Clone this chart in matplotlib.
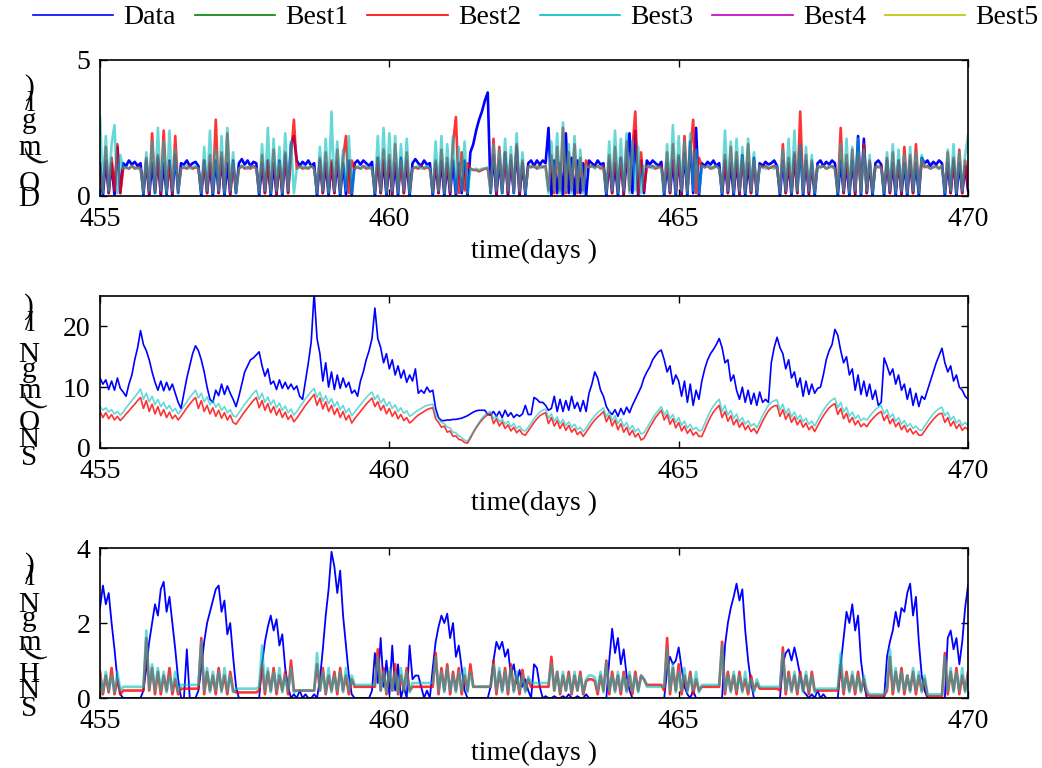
import numpy as np
import matplotlib
matplotlib.use('Agg')
import matplotlib.pyplot as plt
from matplotlib.lines import Line2D

plt.rcParams['font.family'] = ['Liberation Serif', 'DejaVu Serif']

# sampling of the series: 455.00 .. 470.00, one value every 0.05 day
t_start = 455.0
t_step = 0.05

# ---- DO (mg/l) ----
do_data = [
    1.2, 0.0, 1.3, 0.1, 1.2, 0.0, 1.8, 0.1, 1.2, 1.1, 1.3, 1.15, 1.25, 1.1, 1.2, 0.05, 1.3, 0.0, 1.2, 0.1,
    1.4, 0.0, 1.2, 0.05, 1.3, 0.0, 1.5, 0.1, 1.2, 1.15, 1.3, 1.1, 1.2, 1.25, 1.1, 0.0, 1.3, 0.1, 1.2, 0.0,
    1.3, 0.1, 1.4, 0.0, 1.2, 0.05, 1.3, 0.1, 1.2, 1.35, 1.15, 1.3, 1.1, 1.25, 1.2, 0.0, 1.2, 0.1, 1.3, 0.0,
    1.2, 0.05, 1.3, 0.0, 1.5, 0.1, 1.9, 2.2, 1.3, 1.1, 1.25, 1.15, 1.3, 1.1, 1.2, 0.0, 1.3, 0.1, 1.2, 0.0,
    1.2, 0.1, 1.3, 0.0, 1.2, 0.05, 1.3, 0.0, 1.2, 1.3, 1.15, 1.3, 1.2, 1.1, 1.25, 0.0, 1.4, 0.1, 1.3, 0.0,
    1.3, 0.05, 1.2, 0.0, 1.4, 0.1, 1.3, 0.0, 1.2, 1.35, 1.2, 1.1, 1.3, 1.15, 1.2, 0.0, 1.2, 0.1, 1.3, 0.0,
    1.2, 0.05, 1.3, 0.0, 1.2, 0.1, 1.3, 0.0, 1.6, 1.9, 2.4, 2.8, 3.1, 3.5, 3.8, 0.1, 1.5, 0.0, 1.3, 0.1,
    1.6, 0.0, 1.3, 0.1, 1.8, 0.0, 1.2, 0.05, 1.2, 1.3, 1.1, 1.3, 1.15, 1.3, 1.2, 2.5, 0.0, 1.3, 0.1, 1.2,
    0.0, 2.3, 0.1, 1.4, 0.0, 1.3, 0.1, 1.2, 0.0, 1.3, 1.2, 1.1, 1.3, 1.15, 1.2, 0.0, 1.3, 0.1, 1.2, 0.0,
    1.4, 0.05, 1.3, 2.3, 0.1, 2.4, 0.0, 1.3, 0.1, 1.3, 1.15, 1.3, 1.2, 1.1, 1.25, 0.0, 1.2, 0.1, 1.3, 0.0,
    1.4, 0.05, 1.6, 0.0, 2.0, 0.1, 2.5, 0.0, 1.2, 1.1, 1.25, 1.15, 1.3, 1.1, 1.2, 0.0, 1.3, 0.1, 1.2, 0.0,
    1.3, 0.05, 1.5, 0.0, 1.2, 0.1, 1.4, 0.0, 1.2, 1.1, 1.25, 1.15, 1.2, 1.3, 1.1, 0.0, 1.3, 0.1, 1.2, 0.0,
    1.5, 0.1, 1.9, 0.0, 1.3, 0.05, 1.2, 0.0, 1.2, 1.3, 1.1, 1.25, 1.15, 1.3, 1.2, 0.0, 1.3, 0.1, 1.2, 0.0,
    1.3, 0.05, 2.2, 0.0, 2.1, 0.1, 1.2, 0.0, 1.2, 1.3, 1.15, 0.0, 1.3, 0.1, 1.2, 0.0, 1.3, 0.05, 1.2, 0.0,
    1.3, 0.1, 1.2, 0.0, 1.4, 1.2, 1.3, 1.1, 1.25, 1.15, 1.3, 1.2, 0.0, 1.2, 0.1, 1.3, 0.0, 1.2, 0.1, 1.1,
    0.2]
do_best2 = [
    1.0, 0.2, 1.8, 0.1, 1.4, 0.2, 1.9, 0.1, 1.0, 1.05, 1.0, 1.1, 1.0, 1.05, 1.0, 0.2, 1.4, 0.1, 2.3, 0.2,
    1.5, 0.1, 2.4, 0.2, 1.2, 0.1, 2.2, 0.2, 1.0, 1.05, 1.0, 1.1, 1.0, 1.05, 1.0, 0.2, 1.3, 0.1, 1.5, 0.2,
    2.8, 0.1, 1.6, 0.2, 2.3, 0.1, 1.2, 0.2, 1.0, 1.1, 1.0, 1.05, 1.0, 1.1, 1.0, 0.2, 1.5, 0.1, 1.3, 0.2,
    1.7, 0.1, 1.2, 0.2, 1.6, 0.1, 1.4, 2.8, 1.0, 1.1, 1.0, 1.05, 1.0, 1.1, 1.0, 0.2, 1.4, 0.1, 1.6, 0.2,
    1.3, 0.1, 1.7, 0.2, 1.4, 2.2, 0.1, 1.3, 1.0, 1.05, 1.0, 1.1, 1.0, 1.05, 1.0, 0.2, 1.4, 0.1, 1.7, 0.2,
    1.5, 0.1, 1.9, 0.2, 1.3, 0.1, 1.6, 0.2, 1.0, 1.05, 1.0, 1.1, 1.0, 1.05, 1.0, 0.2, 1.3, 0.1, 1.7, 0.2,
    1.4, 0.1, 1.9, 2.9, 0.1, 1.6, 0.2, 1.2, 1.0, 0.95, 0.95, 0.9, 0.95, 1.0, 1.0, 0.2, 2.1, 0.1, 1.8, 0.2,
    1.6, 0.1, 1.5, 0.2, 1.9, 0.1, 1.3, 0.2, 1.1, 1.05, 1.1, 1.0, 1.1, 1.05, 1.1, 0.2, 1.5, 0.1, 1.8, 0.2,
    2.5, 0.1, 1.6, 0.2, 1.9, 0.1, 1.4, 0.2, 1.3, 1.05, 1.1, 1.05, 1.1, 1.0, 1.1, 0.2, 1.5, 0.1, 1.8, 0.2,
    1.4, 0.1, 2.0, 0.2, 1.7, 3.1, 0.1, 1.6, 0.2, 1.1, 1.05, 1.1, 1.0, 1.05, 1.1, 0.2, 1.6, 0.1, 1.9, 0.2,
    1.5, 0.1, 2.2, 0.2, 1.6, 2.8, 0.1, 1.4, 1.1, 1.05, 1.1, 1.0, 1.05, 1.1, 1.0, 0.2, 1.5, 0.1, 1.8, 0.2,
    1.6, 0.1, 1.4, 0.2, 1.9, 0.1, 1.3, 0.2, 1.1, 1.05, 1.1, 1.0, 1.05, 1.1, 1.0, 0.2, 1.9, 0.1, 1.4, 0.2,
    1.6, 0.1, 3.1, 0.2, 1.5, 0.1, 1.3, 0.2, 1.1, 1.05, 1.1, 1.0, 1.05, 1.1, 1.0, 0.2, 2.5, 0.1, 1.5, 0.2,
    1.7, 0.1, 1.6, 0.2, 1.9, 0.1, 1.3, 0.2, 1.1, 1.05, 1.1, 0.2, 1.4, 0.1, 1.6, 0.2, 1.3, 0.1, 1.8, 0.2,
    1.5, 0.1, 1.9, 0.2, 1.3, 1.05, 1.1, 1.0, 1.05, 1.1, 1.0, 1.1, 0.2, 1.6, 0.1, 1.4, 0.2, 1.7, 0.1, 1.3,
    0.3]
do_best3 = [
    2.9, 0.1, 2.2, 0.2, 1.9, 2.6, 0.1, 1.5, 1.0, 1.05, 1.0, 1.1, 1.05, 1.0, 1.0, 0.1, 1.6, 0.2, 2.0, 0.1,
    2.5, 0.2, 2.0, 0.1, 2.4, 0.2, 1.7, 0.1, 1.0, 1.05, 1.1, 1.0, 1.05, 1.1, 1.0, 0.1, 1.8, 0.2, 2.4, 0.1,
    1.7, 0.2, 2.2, 0.1, 2.5, 0.2, 1.6, 0.1, 1.0, 1.1, 1.05, 1.0, 1.1, 1.05, 1.0, 0.1, 1.9, 0.2, 2.5, 0.1,
    2.1, 0.2, 1.8, 0.1, 2.3, 0.2, 2.0, 0.1, 1.0, 1.05, 1.1, 1.0, 1.05, 1.1, 1.0, 0.1, 1.8, 0.2, 2.1, 0.1,
    3.1, 0.2, 2.0, 0.1, 1.7, 0.2, 2.2, 0.1, 1.0, 1.1, 1.0, 1.05, 1.1, 1.0, 1.05, 0.1, 2.2, 0.2, 2.5, 0.1,
    2.3, 0.2, 2.2, 0.1, 1.9, 0.2, 2.1, 0.1, 1.0, 1.05, 1.1, 1.0, 1.05, 1.1, 1.0, 0.1, 2.0, 0.2, 2.2, 0.1,
    1.9, 0.2, 2.2, 0.1, 1.8, 0.2, 2.0, 0.1, 1.0, 0.95, 1.0, 0.95, 1.0, 1.0, 1.05, 0.1, 1.9, 0.2, 1.7, 0.1,
    2.1, 0.2, 1.8, 0.1, 2.3, 0.2, 1.6, 0.1, 1.05, 1.1, 1.05, 1.1, 1.0, 1.1, 1.05, 0.1, 2.0, 0.2, 2.3, 0.1,
    2.7, 0.2, 1.9, 0.1, 2.2, 0.2, 1.7, 0.1, 1.1, 1.05, 1.1, 1.0, 1.1, 1.05, 1.0, 0.1, 2.0, 0.2, 2.4, 0.1,
    2.1, 0.2, 2.3, 0.1, 2.0, 0.2, 1.8, 0.1, 1.1, 1.05, 1.1, 1.0, 1.1, 1.05, 1.0, 0.1, 1.9, 0.2, 2.6, 0.1,
    2.2, 0.2, 2.0, 0.1, 2.3, 0.2, 1.7, 0.1, 1.1, 1.05, 1.1, 1.05, 1.0, 1.1, 1.0, 0.1, 2.4, 0.2, 2.0, 0.1,
    2.1, 0.2, 1.8, 0.1, 2.1, 0.2, 1.6, 0.1, 1.1, 1.05, 1.0, 1.1, 1.05, 1.0, 1.1, 0.1, 1.7, 0.2, 2.1, 0.1,
    2.4, 0.2, 1.9, 0.1, 1.8, 0.2, 1.5, 0.1, 1.1, 1.05, 1.1, 1.0, 1.1, 1.05, 1.0, 0.1, 1.9, 0.2, 2.1, 0.1,
    1.8, 0.2, 2.1, 0.1, 1.7, 0.2, 1.5, 0.1, 1.05, 1.1, 1.0, 0.1, 1.6, 0.2, 1.9, 0.1, 1.7, 0.2, 1.5, 0.1,
    1.8, 0.2, 1.6, 0.1, 1.5, 1.1, 1.05, 1.0, 1.1, 1.05, 1.0, 1.1, 0.1, 1.7, 0.2, 1.9, 0.1, 1.6, 0.2, 1.5,
    2.2]

# ---- SNO (mgN/l) ----
sno_data = [
    11.5, 10.5, 11.2, 9.6, 11.0, 9.5, 11.5, 9.8, 9.2, 8.5, 10.5, 12.0, 14.5, 16.5, 19.3, 17.0, 16.0, 14.5, 12.5, 10.8,
    9.5, 11.0, 9.4, 10.8, 9.5, 10.5, 9.0, 7.5, 6.5, 9.0, 11.5, 13.5, 15.5, 16.8, 16.0, 14.5, 12.5, 10.0, 8.0, 7.5,
    9.5, 8.6, 10.5, 8.8, 10.2, 9.0, 8.0, 6.8, 8.5, 10.5, 12.5, 13.5, 14.5, 14.8, 15.3, 15.8, 13.5, 11.8, 13.0, 10.5,
    11.0, 9.6, 11.2, 9.8, 10.8, 9.7, 10.5, 9.6, 10.2, 8.5, 8.0, 11.0, 14.0, 17.5, 25.5, 18.0, 15.5, 11.0, 14.0, 10.0,
    12.5, 9.6, 12.0, 9.8, 11.5, 10.0, 10.8, 9.0, 9.5, 8.5, 11.0, 12.5, 14.5, 16.0, 18.0, 23.0, 18.0, 16.5, 14.0, 15.5,
    13.0, 14.5, 12.0, 13.5, 11.5, 12.8, 10.8, 12.0, 11.0, 13.0, 9.0, 9.5, 9.0, 10.0, 9.2, 9.5, 6.5, 5.0, 4.5, 4.5,
    4.6, 4.6, 4.7, 4.7, 4.8, 4.9, 5.1, 5.3, 5.6, 5.9, 6.1, 6.2, 6.2, 6.2, 5.5, 5.4, 6.0, 5.2, 6.0, 5.0,
    6.2, 5.2, 5.8, 5.0, 5.5, 5.2, 5.6, 7.0, 5.5, 5.5, 8.3, 8.0, 7.5, 7.5, 7.0, 6.2, 6.5, 8.5, 6.0, 8.0,
    6.0, 7.8, 6.2, 8.5, 6.5, 7.5, 6.0, 7.8, 6.0, 9.0, 10.5, 12.5, 11.5, 9.5, 8.5, 6.8, 6.0, 5.5, 6.3, 5.2,
    6.5, 5.5, 6.7, 5.8, 7.0, 8.0, 9.0, 10.0, 11.5, 12.5, 13.3, 14.5, 15.2, 15.8, 16.1, 14.5, 12.5, 13.5, 10.5, 12.0,
    11.0, 8.5, 11.0, 7.5, 10.5, 7.0, 9.5, 8.0, 11.0, 13.0, 14.5, 15.5, 16.2, 17.0, 18.0, 16.5, 14.0, 14.5, 11.0, 12.0,
    9.5, 8.0, 10.0, 7.5, 9.5, 7.2, 9.0, 7.0, 9.2, 7.5, 8.0, 7.5, 14.0, 16.5, 18.2, 16.5, 15.5, 13.0, 14.5, 11.5,
    12.5, 10.0, 11.5, 8.5, 11.0, 8.8, 10.5, 9.0, 9.8, 10.0, 12.0, 14.5, 16.0, 17.0, 19.5, 18.5, 16.0, 14.0, 15.0, 12.0,
    13.0, 9.5, 12.0, 8.8, 11.0, 8.5, 10.5, 8.0, 9.5, 7.0, 7.5, 14.8, 13.5, 12.0, 13.0, 10.5, 12.0, 9.5, 10.5, 8.0,
    9.8, 7.0, 9.0, 6.8, 8.5, 8.0, 9.5, 11.0, 12.5, 14.0, 15.2, 16.4, 14.0, 12.5, 13.5, 11.0, 12.0, 10.0, 9.5, 8.5,
    8.0]
sno_best2 = [
    6.0, 5.0, 5.8, 4.8, 5.5, 4.6, 5.2, 4.5, 5.0, 5.6, 6.1, 6.7, 7.2, 7.8, 8.3, 6.5, 7.8, 6.0, 7.2, 5.6,
    6.8, 5.3, 6.3, 5.0, 5.9, 4.8, 5.4, 4.6, 5.2, 5.9, 6.6, 7.2, 7.8, 8.3, 6.5, 7.8, 6.0, 7.0, 5.6, 6.6,
    5.2, 6.2, 4.9, 5.8, 4.6, 5.4, 4.2, 3.9, 4.6, 5.3, 6.0, 6.6, 7.2, 7.8, 8.3, 6.6, 7.8, 6.2, 7.3, 5.8,
    6.8, 5.4, 6.4, 5.0, 5.9, 4.7, 5.4, 4.3, 4.9, 5.6, 6.3, 7.0, 7.6, 8.2, 8.8, 7.0, 8.2, 6.4, 7.6, 6.0,
    7.0, 5.5, 6.5, 5.0, 6.0, 4.6, 5.4, 4.1, 4.8, 5.4, 6.0, 6.6, 7.2, 7.7, 8.2, 6.8, 7.6, 6.2, 7.0, 5.6,
    6.5, 5.2, 6.0, 4.8, 5.5, 4.5, 5.0, 4.1, 4.5, 5.0, 5.4, 5.7, 6.0, 6.3, 6.5, 6.6, 4.8, 4.2, 3.4, 3.6,
    2.6, 2.8, 1.9, 2.0, 1.4, 1.3, 0.9, 0.8, 1.6, 2.5, 3.3, 4.0, 4.6, 5.1, 5.5, 5.7, 4.0, 4.8, 3.6, 4.3,
    3.2, 3.8, 2.8, 3.4, 2.5, 3.0, 2.3, 2.1, 2.8, 3.5, 4.2, 4.8, 5.3, 5.6, 5.8, 4.0, 5.0, 3.6, 4.5, 3.2,
    4.1, 2.9, 3.7, 2.6, 3.2, 2.2, 2.7, 1.9, 2.6, 3.3, 4.0, 4.6, 5.1, 5.5, 6.0, 4.3, 5.3, 3.6, 4.6, 3.0,
    4.0, 2.6, 3.4, 2.1, 2.9, 1.8, 2.4, 1.3, 1.6, 2.5, 3.4, 4.2, 5.0, 5.6, 6.2, 4.6, 5.5, 3.9, 4.8, 3.3,
    4.2, 2.8, 3.6, 2.4, 3.1, 2.1, 2.6, 1.9, 1.9, 3.0, 4.1, 5.1, 5.9, 6.5, 7.0, 5.0, 6.0, 4.4, 5.3, 3.8,
    4.7, 3.4, 4.2, 3.0, 3.7, 2.7, 3.2, 2.4, 3.4, 4.4, 5.3, 6.1, 6.6, 6.9, 7.0, 5.2, 6.3, 4.7, 5.7, 4.2,
    5.1, 3.8, 4.6, 3.4, 4.1, 3.0, 3.6, 2.7, 3.6, 4.5, 5.3, 6.0, 6.6, 7.0, 7.3, 5.5, 6.5, 4.8, 5.7, 4.2,
    5.0, 3.8, 4.5, 3.5, 4.0, 3.5, 4.2, 4.8, 5.3, 5.7, 6.0, 4.5, 5.4, 4.0, 4.8, 3.5, 4.2, 3.0, 3.7, 2.6,
    3.2, 2.3, 2.8, 2.1, 2.1, 2.8, 3.5, 4.1, 4.7, 5.2, 5.6, 5.7, 4.2, 5.0, 3.6, 4.4, 3.2, 3.9, 2.9, 3.4,
    3.0]
sno_best3 = [
    6.8, 6.2, 6.6, 5.9, 6.3, 5.6, 6.0, 5.4, 5.9, 6.6, 7.2, 7.8, 8.4, 9.0, 9.7, 8.0, 9.0, 7.6, 8.5, 7.1,
    8.0, 6.8, 7.5, 6.4, 7.0, 6.0, 6.5, 5.6, 6.2, 6.9, 7.6, 8.3, 8.9, 9.5, 8.2, 9.0, 7.6, 8.4, 7.1, 7.8,
    6.7, 7.3, 6.2, 6.8, 5.8, 6.3, 5.3, 5.1, 5.8, 6.5, 7.2, 7.8, 8.4, 9.0, 9.5, 8.0, 9.0, 7.5, 8.4, 7.1,
    7.9, 6.6, 7.4, 6.2, 6.9, 5.8, 6.4, 5.4, 6.0, 6.7, 7.4, 8.1, 8.7, 9.3, 9.8, 8.3, 9.2, 7.7, 8.6, 7.3,
    8.1, 6.8, 7.6, 6.3, 7.0, 5.8, 6.5, 5.3, 5.9, 6.5, 7.1, 7.7, 8.3, 8.8, 9.2, 8.0, 8.7, 7.4, 8.1, 6.9,
    7.6, 6.5, 7.1, 6.0, 6.6, 5.7, 6.1, 5.2, 5.5, 5.9, 6.2, 6.5, 6.8, 7.0, 7.1, 7.2, 5.4, 4.8, 4.2, 4.0,
    3.4, 3.3, 2.6, 2.5, 2.0, 1.7, 1.3, 1.1, 1.9, 2.7, 3.5, 4.2, 4.9, 5.4, 5.8, 6.0, 4.8, 5.3, 4.3, 4.8,
    3.9, 4.4, 3.5, 4.0, 3.2, 3.6, 2.9, 2.8, 3.4, 4.1, 4.8, 5.4, 5.9, 6.2, 6.4, 4.9, 5.6, 4.4, 5.1, 4.0,
    4.7, 3.7, 4.3, 3.4, 3.9, 3.0, 3.4, 2.7, 3.3, 4.0, 4.7, 5.3, 5.8, 6.2, 6.6, 5.1, 6.0, 4.5, 5.3, 4.0,
    4.8, 3.5, 4.2, 3.0, 3.7, 2.7, 3.2, 2.3, 2.5, 3.3, 4.1, 4.9, 5.6, 6.2, 6.8, 5.4, 6.2, 4.8, 5.5, 4.2,
    5.0, 3.7, 4.4, 3.3, 3.9, 3.0, 3.4, 2.8, 2.9, 4.0, 5.1, 6.1, 6.9, 7.5, 8.0, 6.0, 7.0, 5.4, 6.2, 4.8,
    5.6, 4.3, 5.0, 3.9, 4.5, 3.6, 4.0, 3.3, 4.3, 5.3, 6.2, 7.0, 7.5, 7.8, 7.9, 6.2, 7.2, 5.6, 6.5, 5.1,
    5.9, 4.7, 5.4, 4.3, 4.9, 3.9, 4.4, 3.6, 4.5, 5.4, 6.2, 6.9, 7.5, 7.9, 8.2, 6.6, 7.5, 5.9, 6.7, 5.2,
    5.9, 4.8, 5.4, 4.5, 4.9, 4.6, 5.2, 5.8, 6.3, 6.7, 7.0, 5.6, 6.3, 5.0, 5.6, 4.4, 5.0, 3.9, 4.5, 3.5,
    4.0, 3.2, 3.6, 3.0, 2.9, 3.6, 4.3, 5.0, 5.6, 6.1, 6.5, 6.7, 5.3, 5.9, 4.6, 5.2, 4.1, 4.6, 3.7, 4.2,
    3.7]

# ---- SNH (mgN/l) ----
snh_data = [
    2.4, 3.0, 2.5, 2.8, 2.0, 1.3, 0.5, 0.1, 0.0, 0.0, 0.0, 0.0, 0.0, 0.0, 0.0, 0.2, 0.8, 1.5, 2.0, 2.5,
    2.2, 2.9, 3.1, 2.3, 2.7, 2.0, 1.3, 0.5, 0.0, 0.0, 1.3, 0.0, 0.0, 0.0, 0.2, 0.8, 1.5, 2.0, 2.3, 2.6,
    2.9, 3.0, 2.3, 2.6, 1.7, 2.0, 1.1, 0.3, 0.0, 0.0, 0.0, 0.0, 0.0, 0.0, 0.0, 0.0, 0.9, 1.5, 1.9, 2.2,
    1.8, 2.1, 1.4, 1.7, 0.8, 0.3, 0.0, 0.1, 0.0, 0.2, 0.0, 0.1, 0.0, 0.0, 0.1, 0.0, 0.5, 1.3, 2.2, 2.9,
    3.9, 3.5, 2.8, 3.4, 2.2, 1.4, 0.6, 0.1, 0.0, 0.0, 0.0, 0.0, 0.0, 0.0, 0.2, 1.2, 0.4, 1.6, 0.3, 1.0,
    0.1, 1.4, 0.2, 0.9, 0.0, 0.3, 0.0, 1.4, 0.5, 0.6, 0.6, 0.3, 0.0, 0.2, 0.0, 0.8, 1.5, 1.9, 2.2, 2.0,
    2.25, 1.6, 2.0, 1.1, 1.4, 0.8, 0.2, 0.0, 0.0, 0.0, 0.0, 0.0, 0.0, 0.0, 0.0, 0.3, 1.0, 1.5, 1.3, 1.5,
    1.1, 1.3, 0.6, 0.9, 0.4, 0.75, 0.3, 0.5, 0.2, 0.0, 0.9, 0.8, 0.3, 0.0, 0.05, 0.0, 0.0, 0.05, 0.0, 0.0,
    0.05, 0.0, 0.1, 0.0, 0.0, 0.05, 0.0, 0.0, 0.1, 0.0, 0.0, 0.0, 0.0, 0.0, 0.0, 0.0, 1.0, 1.85, 1.2, 1.6,
    0.9, 1.3, 0.6, 0.2, 0.0, 0.0, 0.0, 0.0, 0.0, 0.0, 0.0, 0.0, 0.0, 0.0, 0.0, 0.0, 0.75, 1.1, 0.9, 1.0,
    1.35, 0.8, 0.3, 0.1, 0.0, 0.2, 0.0, 0.0, 0.0, 0.0, 0.0, 0.0, 0.0, 0.0, 0.0, 0.0, 1.4, 2.0, 2.4, 2.7,
    3.05, 2.6, 2.9, 1.8, 1.0, 0.4, 0.0, 0.0, 0.0, 0.0, 0.0, 0.0, 0.0, 0.0, 0.0, 0.0, 0.9, 1.2, 1.3, 1.0,
    1.35, 1.0, 0.6, 0.2, 0.1, 0.0, 0.1, 0.0, 0.2, 0.0, 0.1, 0.0, 0.0, 0.0, 0.0, 0.0, 0.9, 1.6, 2.3, 2.0,
    2.5, 1.8, 2.2, 1.0, 0.4, 0.0, 0.0, 0.0, 0.0, 0.0, 0.0, 0.0, 1.1, 1.5, 1.8, 2.3, 1.9, 2.4, 2.3, 2.8,
    3.05, 2.2, 2.7, 1.5, 0.6, 0.2, 0.0, 0.0, 0.0, 0.0, 0.0, 0.0, 0.0, 1.6, 1.8, 1.3, 1.6, 0.9, 1.5, 2.4,
    3.0]
snh_best2 = [
    0.7, 0.1, 0.6, 0.15, 0.8, 0.1, 0.5, 0.1, 0.2, 0.2, 0.2, 0.2, 0.2, 0.2, 0.2, 0.2, 1.6, 0.2, 0.8, 0.1,
    0.7, 0.1, 0.6, 0.2, 0.8, 0.1, 0.5, 0.1, 0.25, 0.25, 0.25, 0.25, 0.25, 0.25, 0.25, 1.6, 0.1, 0.7, 0.2, 0.6,
    0.1, 0.8, 0.2, 0.6, 0.1, 0.7, 0.2, 0.15, 0.15, 0.15, 0.15, 0.15, 0.15, 0.15, 0.15, 0.2, 0.9, 0.1, 0.7, 0.2,
    0.8, 0.1, 0.6, 0.2, 0.7, 0.1, 1.0, 0.2, 0.2, 0.2, 0.2, 0.2, 0.2, 0.2, 0.2, 0.9, 0.2, 0.8, 0.1, 0.6,
    0.2, 0.7, 0.1, 0.8, 0.2, 0.6, 0.1, 0.5, 0.3, 0.3, 0.3, 0.3, 0.3, 0.3, 0.3, 0.3, 1.3, 0.2, 0.8, 0.1,
    0.7, 0.2, 0.9, 0.1, 0.6, 0.2, 0.8, 0.2, 0.3, 0.3, 0.3, 0.3, 0.3, 0.3, 0.3, 0.3, 1.2, 0.1, 0.8, 0.2,
    0.9, 0.1, 0.7, 0.2, 0.8, 0.1, 0.6, 0.2, 0.9, 0.3, 0.3, 0.3, 0.3, 0.3, 0.3, 0.3, 1.0, 0.1, 0.7, 0.2,
    0.8, 0.1, 0.9, 0.2, 0.6, 0.1, 0.75, 0.2, 0.5, 0.3, 0.3, 0.3, 0.3, 0.3, 0.3, 0.3, 1.1, 0.2, 0.7, 0.1,
    0.6, 0.2, 0.7, 0.1, 0.6, 0.2, 0.7, 0.1, 0.45, 0.5, 0.5, 0.45, 0.1, 0.6, 0.2, 1.0, 0.1, 0.7, 0.2, 0.6,
    0.1, 0.7, 0.2, 0.6, 0.1, 0.7, 0.2, 0.6, 0.5, 0.35, 0.35, 0.35, 0.35, 0.35, 0.35, 0.2, 1.6, 0.1, 0.8, 0.2,
    0.9, 0.1, 0.6, 0.2, 0.7, 0.1, 0.5, 0.2, 0.3, 0.3, 0.3, 0.3, 0.3, 0.3, 0.3, 1.5, 0.1, 0.7, 0.2, 0.6,
    0.1, 0.7, 0.2, 0.5, 0.1, 0.6, 0.2, 0.4, 0.25, 0.25, 0.25, 0.25, 0.25, 0.25, 0.25, 0.2, 1.35, 0.1, 0.7, 0.2,
    0.6, 0.1, 0.7, 0.2, 0.6, 0.1, 0.7, 0.2, 0.2, 0.2, 0.2, 0.2, 0.2, 0.2, 0.2, 0.2, 0.9, 0.1, 0.7, 0.2,
    0.6, 0.1, 0.7, 0.2, 0.5, 0.1, 0.06, 0.06, 0.06, 0.06, 0.06, 0.06, 0.2, 1.1, 0.1, 0.7, 0.2, 0.8, 0.1, 0.6,
    0.2, 0.7, 0.1, 0.6, 0.2, 0.5, 0.05, 0.05, 0.05, 0.05, 0.05, 0.05, 1.2, 0.1, 0.7, 0.2, 0.8, 0.1, 0.6, 0.2,
    0.7]
snh_best3 = [
    0.6, 0.15, 0.7, 0.2, 0.6, 0.15, 0.7, 0.2, 0.3, 0.3, 0.3, 0.3, 0.3, 0.3, 0.3, 0.3, 1.8, 0.25, 0.9, 0.2,
    0.8, 0.2, 0.7, 0.15, 0.6, 0.2, 0.7, 0.15, 0.35, 0.35, 0.35, 0.35, 0.35, 0.35, 0.35, 1.5, 0.2, 0.8, 0.15, 0.7,
    0.2, 0.7, 0.15, 0.8, 0.2, 0.6, 0.15, 0.25, 0.25, 0.25, 0.25, 0.25, 0.25, 0.25, 0.25, 0.3, 1.4, 0.2, 0.8, 0.15,
    0.7, 0.2, 0.8, 0.15, 0.6, 0.2, 0.8, 0.15, 0.2, 0.2, 0.2, 0.2, 0.2, 0.2, 0.2, 1.2, 0.2, 0.7, 0.15, 0.8,
    0.15, 0.6, 0.2, 0.7, 0.15, 0.8, 0.2, 0.6, 0.35, 0.35, 0.35, 0.35, 0.35, 0.35, 0.35, 0.35, 1.1, 0.2, 0.7, 0.15,
    0.8, 0.2, 0.7, 0.15, 0.8, 0.2, 0.7, 0.15, 0.4, 0.4, 0.4, 0.4, 0.4, 0.4, 0.4, 0.4, 1.1, 0.2, 0.7, 0.15,
    0.8, 0.2, 0.6, 0.15, 0.7, 0.2, 0.8, 0.15, 0.7, 0.3, 0.3, 0.3, 0.3, 0.3, 0.3, 0.3, 0.9, 0.2, 0.8, 0.15,
    0.7, 0.2, 0.8, 0.15, 0.7, 0.2, 0.6, 0.15, 0.57, 0.4, 0.4, 0.4, 0.4, 0.4, 0.4, 0.4, 0.9, 0.2, 0.7, 0.15,
    0.7, 0.2, 0.6, 0.15, 0.7, 0.2, 0.6, 0.15, 0.5, 0.6, 0.6, 0.55, 0.2, 0.7, 0.15, 0.95, 0.2, 0.6, 0.15, 0.7,
    0.2, 0.6, 0.15, 0.7, 0.2, 0.6, 0.15, 0.6, 0.5, 0.3, 0.3, 0.3, 0.3, 0.3, 0.3, 0.3, 1.3, 0.2, 0.9, 0.15,
    0.7, 0.2, 0.8, 0.15, 0.6, 0.2, 0.7, 0.15, 0.35, 0.35, 0.35, 0.35, 0.35, 0.35, 0.35, 1.4, 0.2, 0.6, 0.15, 0.7,
    0.2, 0.6, 0.15, 0.7, 0.2, 0.5, 0.15, 0.5, 0.3, 0.3, 0.3, 0.3, 0.3, 0.3, 0.3, 0.3, 1.2, 0.2, 0.6, 0.15,
    0.7, 0.2, 0.6, 0.15, 0.7, 0.2, 0.6, 0.15, 0.25, 0.25, 0.25, 0.25, 0.25, 0.25, 0.25, 0.25, 1.2, 0.2, 0.6, 0.15,
    0.7, 0.2, 0.6, 0.15, 0.6, 0.2, 0.1, 0.1, 0.1, 0.1, 0.1, 0.1, 0.3, 1.3, 0.2, 0.8, 0.15, 0.7, 0.2, 0.6,
    0.15, 0.8, 0.2, 0.7, 0.15, 0.6, 0.1, 0.1, 0.1, 0.1, 0.1, 0.1, 1.1, 0.2, 0.8, 0.15, 0.7, 0.2, 0.8, 0.15,
    0.6]

legend_labels = ['Data', 'Best1', 'Best2', 'Best3', 'Best4', 'Best5']
line_colors = ['#0000ff', '#008000', '#ff0000', '#00bfbf', '#bf00bf', '#bfbf00']

for arr in [do_data, do_best2, do_best3, sno_data, sno_best2, sno_best3,
            snh_data, snh_best2, snh_best3]:
    assert len(arr) == 301, len(arr)

fig = plt.figure(figsize=(10.42, 7.68), dpi=100)

# axes boxes in figure fraction (left, bottom, width, height)
boxes = [[0.096, 0.745, 0.833, 0.177],
         [0.096, 0.4167, 0.833, 0.198],
         [0.096, 0.0911, 0.833, 0.1953]]
# data, best2, best3, ymax, yticks, line width of data / of the bests
panels = [(do_data, do_best2, do_best3, 5, [0, 5], 1.9, 1.9),
          (sno_data, sno_best2, sno_best3, 25, [0, 10, 20], 1.2, 1.2),
          (snh_data, snh_best2, snh_best3, 4, [0, 2, 4], 1.3, 1.9)]

for box, (data, best2, best3, ymax, yt, lw_d, lw_b) in zip(boxes, panels):
    ax = fig.add_axes(box)
    t = t_start + t_step * np.arange(len(data))
    ax.plot(t, data, color=line_colors[0], lw=lw_d)
    ax.plot(t, best2, color=line_colors[2], lw=lw_b, alpha=0.8)
    ax.plot(t, best3, color=line_colors[3], lw=lw_b, alpha=0.6)
    ax.set_xlim(455, 470)
    ax.set_ylim(0, ymax)
    ax.set_xticks([455, 460, 465, 470])
    ax.set_yticks(yt)
    ax.tick_params(direction='in', top=True, right=True, length=5, width=1,
                   labelsize=20)
    ax.tick_params(axis='x', pad=8)
    ax.tick_params(axis='y', pad=7)
    for s in ax.spines.values():
        s.set_linewidth(1.2)
    ax.set_xlabel('time(days )', fontsize=20, labelpad=5)

# y labels come out as a column of single characters (as in the original export)
ylabel_chars = [
    [(')', 30, 88, 0), ('l', 30, 104, 0), ('/', 29, 103, 0), ('g', 29, 121, 0),
     ('m', 30, 148, 0), ('(', 35, 156, 60), ('O', 29, 184, 0), ('D', 29, 199, 0)],
    [(')', 29, 307, 0), ('l', 30, 324, 0), ('/', 29, 323, 0), ('N', 29, 355, 0),
     ('g', 29, 370, 0), ('m', 30, 391, 0), ('(', 34, 401, 60), ('O', 29, 423, 0),
     ('N', 29, 440, 0), ('S', 29, 458, 0)],
    [(')', 30, 566, 0), ('l', 30, 578, 0), ('/', 29, 577, 0), ('N', 29, 605, 0),
     ('g', 29, 619, 0), ('m', 30, 643, 0), ('(', 34, 652, 60), ('H', 29, 675, 0),
     ('N', 29, 691, 0), ('S', 29, 709, 0)],
]
for chars in ylabel_chars:
    for ch, px, py, rot in chars:
        fig.text(px / 1042, 1 - py / 768, ch, fontsize=21, ha='center',
                 va='center', rotation=rot)

handles = [Line2D([], [], color=c, lw=1.2) for c in line_colors]
fig.legend(handles, legend_labels, loc='center', bbox_to_anchor=(0.514, 0.977),
           ncol=6, frameon=False, fontsize=20, handlelength=2.9,
           handletextpad=0.36, columnspacing=0.68, borderaxespad=0,
           borderpad=0)

fig.savefig('out.png', dpi=100)
